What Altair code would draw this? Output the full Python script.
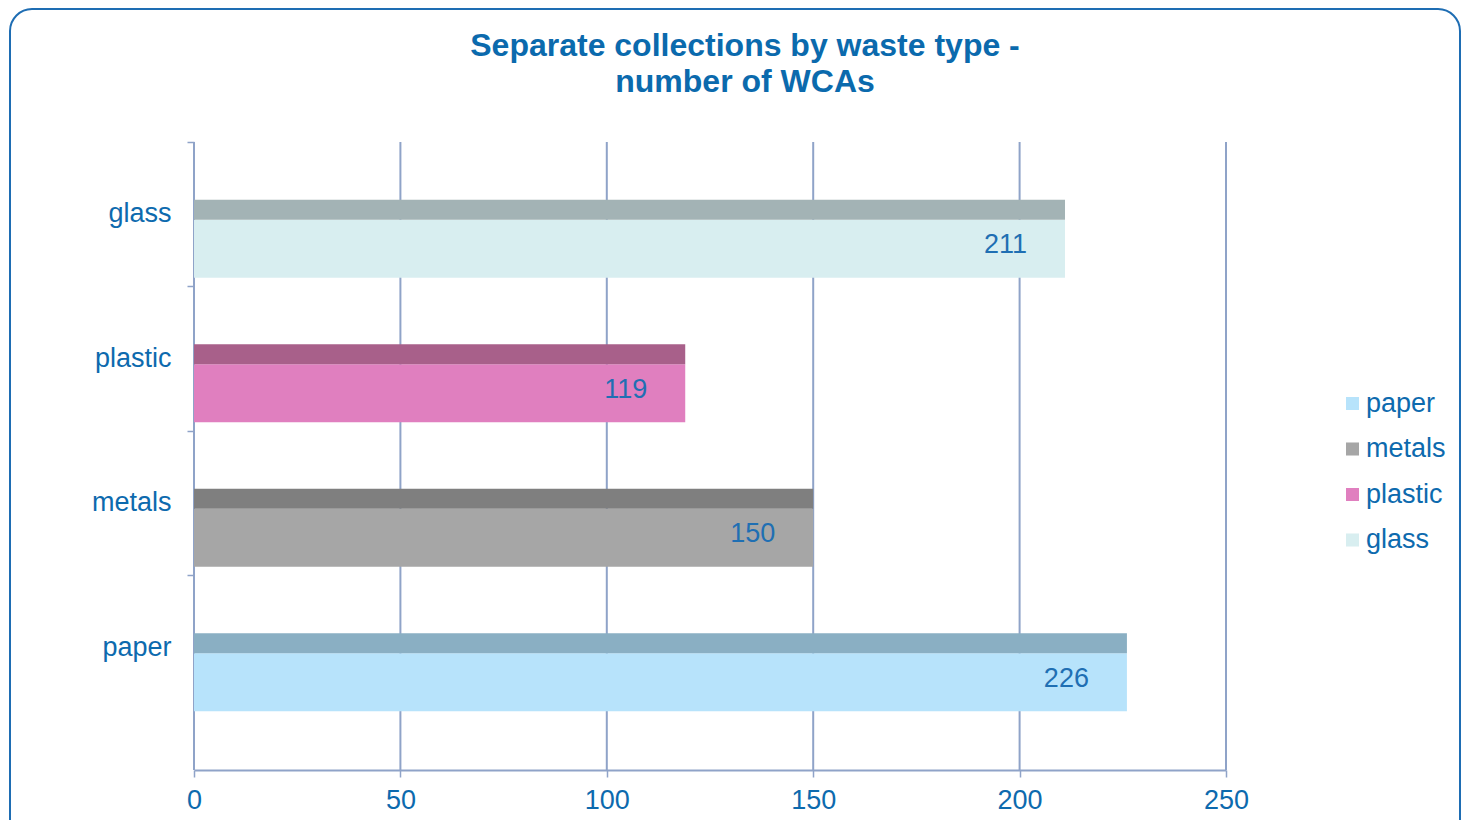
import altair as alt
import pandas as pd

categories = ["glass", "plastic", "metals", "paper"]
values = [211, 119, 150, 226]
front_colors = ["#d8eef0", "#e07fbf", "#a6a6a6", "#b7e3fb"]
top_colors = ["#a3b3b5", "#a8608a", "#7f7f7f", "#8aafc3"]
legend_order = ["paper", "metals", "plastic", "glass"]
x_ticks = [0, 50, 100, 150, 200, 250]
title_lines = ["Separate collections by waste type -", "number of WCAs"]

df = pd.DataFrame({"cat": categories, "val": values,
                   "front": front_colors, "top": top_colors})
ticks_df = pd.DataFrame({"val": x_ticks})

TXT = "#0d6aae"
GRID = "#8fa3c8"
FONT = "Liberation Sans"
FS = 27

yenc = alt.Y("cat:N", sort=categories, title=None,
             scale=alt.Scale(domain=categories, range=[0, 578], paddingInner=0, paddingOuter=0),
             axis=alt.Axis(labelFontSize=FS, labelColor=TXT, labelFont=FONT,
                           domain=False, tickColor=GRID, tickWidth=1.5,
                           tickSize=7, bandPosition=0, labelPadding=16, grid=False))
xscale = alt.Scale(domain=[0, 250], nice=False)
xenc = alt.X("val:Q", title=None, scale=xscale,
             axis=alt.Axis(values=x_ticks, labelFontSize=FS, labelColor=TXT, labelFont=FONT,
                           labelFlush=False, labelOverlap=False,
                           domainColor=GRID, domainWidth=2, tickColor=GRID, tickWidth=1.5,
                           tickSize=7, labelPadding=10, grid=False))

base = alt.Chart(df)

grid = alt.Chart(ticks_df).mark_rule(color=GRID, strokeWidth=2).encode(
    x=xenc, y=alt.value(0), y2=alt.value(628)
)

front = base.mark_bar(size=58, yOffset=34.5).encode(
    y=yenc, x=xenc,
    color=alt.Color("cat:N", scale=alt.Scale(domain=legend_order,
                    range=[front_colors[categories.index(c)] for c in legend_order]),
                    legend=alt.Legend(title=None, orient="none", legendX=1145, legendY=248,
                                      symbolType="square", symbolSize=170, symbolStrokeWidth=0,
                                      labelFontSize=FS, labelColor=TXT, labelFont=FONT,
                                      rowPadding=17.5, labelOffset=0))
)
top = base.mark_bar(size=20, yOffset=-4.5).encode(
    y=yenc, x=xenc,
    color=alt.Color("top:N", scale=None, legend=None)
)
labels = base.mark_text(align="right", baseline="middle", dx=-38, dy=31,
                        fontSize=FS, font=FONT, color="#1f6fb3").encode(
    y=yenc, x=xenc, text="val:Q"
)
title = alt.Chart(pd.DataFrame({"a": [0]})).mark_text(
    text=title_lines, align="center", baseline="middle", lineHeight=36,
    fontSize=32, font=FONT, fontWeight="bold", color="#0b6aad"
).encode(x=alt.value(551), y=alt.value(-96))

border = alt.Chart(pd.DataFrame({"a": [0]})).mark_rect(
    fill=None, stroke="#1e6db3", strokeWidth=2, cornerRadius=22, clip=False
).encode(x=alt.value(-184), x2=alt.value(1266), y=alt.value(-133), y2=alt.value(720))

chart = alt.layer(border, grid, front, top, labels, title).resolve_scale(color="independent").properties(
    width=1032, height=628,
    padding={"left": 186, "top": 134, "right": 238, "bottom": 50},
    autosize=alt.AutoSizeParams(type="none"),
).configure_view(stroke=None)

chart.save("out.html", embed_options={"renderer": "svg", "actions": False})
